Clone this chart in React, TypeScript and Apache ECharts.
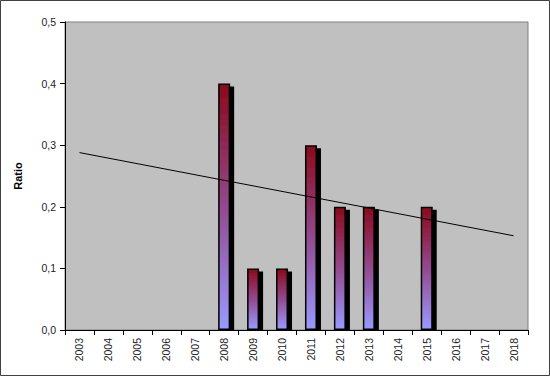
import React, { useEffect, useRef } from "react";
import * as echarts from "echarts";

const years = ["2003","2004","2005","2006","2007","2008","2009","2010","2011","2012","2013","2014","2015","2016","2017","2018"];
const ratios: (number | null)[] = [null, null, null, null, null, 0.4, 0.1, 0.1, 0.3, 0.2, 0.2, null, 0.2, null, null, null];
const trend: (number | null)[] = [0.288, null, null, null, null, null, null, null, null, null, null, null, null, null, null, 0.153];
const yTicks = [0, 0.1, 0.2, 0.3, 0.4, 0.5];

export default function App() {
  const ref = useRef<HTMLDivElement>(null);
  useEffect(() => {
    if (!ref.current) return;
    const chart = echarts.init(ref.current, undefined, { renderer: "svg" });
    const font = "'Liberation Sans', Arial, sans-serif";
    chart.setOption({
      animation: false,
      backgroundColor: "#ffffff",
      graphic: [
        {
          type: "rect",
          shape: { x: 0.5, y: 0.5, width: 549, height: 375 },
          style: { fill: "none", stroke: "#404040", lineWidth: 1 },
          silent: true,
          z: 100,
        },
        {
          type: "rect",
          shape: { x: 66, y: 330.5, width: 470, height: 6 },
          style: { fill: "#ffffff" },
          silent: true,
          z: 5,
        },
      ],
      grid: {
        left: 65,
        right: 22,
        top: 22,
        bottom: 46,
        show: true,
        backgroundColor: "#c0c0c0",
        borderColor: "#808080",
        borderWidth: 1,
      },
      xAxis: {
        type: "category",
        data: years,
        boundaryGap: true,
        z: 10,
        axisLine: { lineStyle: { color: "#000", width: 1 } },
        axisTick: { show: true, alignWithLabel: false, length: 5, lineStyle: { color: "#000" } },
        axisLabel: { rotate: 90, fontFamily: font, fontSize: 10.5, color: "#222", margin: 8, interval: 0 },
        splitLine: { show: false },
      },
      yAxis: {
        type: "value",
        min: 0,
        max: 0.5,
        interval: 0.1,
        name: "Ratio",
        nameLocation: "middle",
        nameGap: 42,
        nameRotate: 90,
        z: 10,
        nameTextStyle: { fontFamily: font, fontSize: 11, fontWeight: "bold", color: "#000" },
        axisLine: { show: true, lineStyle: { color: "#000", width: 1 } },
        axisTick: { show: true, length: 5, lineStyle: { color: "#000" } },
        axisLabel: {
          fontFamily: font,
          fontSize: 10.5,
          color: "#222",
          margin: 9,
          formatter: (v: number) => {
            const t = yTicks.find((x) => Math.abs(x - v) < 1e-9);
            return (t ?? v).toFixed(1).replace(".", ",");
          },
        },
        splitLine: { show: false },
      },
      series: [
        {
          type: "bar",
          data: ratios,
          barWidth: 12,
          itemStyle: {
            color: new echarts.graphic.LinearGradient(0, 0, 0, 1, [
              { offset: 0, color: "#8a0a1c" },
              { offset: 0.5, color: "#924a8e" },
              { offset: 1, color: "#9a9aff" },
            ]),
            borderColor: "#000",
            borderWidth: 1.5,
            shadowColor: "#000",
            shadowBlur: 0,
            shadowOffsetX: 4,
            shadowOffsetY: 3,
          },
          z: 2,
        },
        {
          type: "line",
          data: trend,
          connectNulls: true,
          symbol: "none",
          lineStyle: { color: "#000", width: 1 },
          z: 3,
        },
      ],
    });
    return () => chart.dispose();
  }, []);
  return <div ref={ref} style={{ position: "absolute", left: 0, top: 0, width: 550, height: 376 }} />;
}
